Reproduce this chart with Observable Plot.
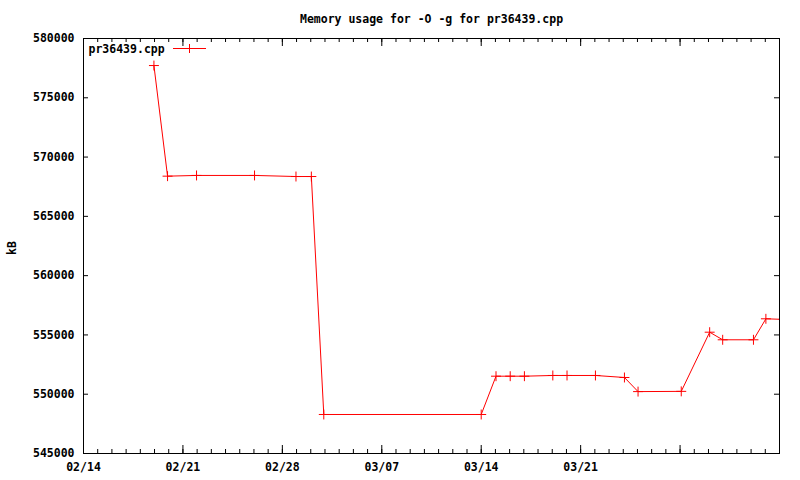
<!DOCTYPE html>
<html><head><meta charset="utf-8">
<script src="https://cdn.jsdelivr.net/npm/d3@7"></script>
<script src="https://cdn.jsdelivr.net/npm/@observablehq/plot@0.6"></script>
<style>body{margin:0;background:#fff}#chart{width:800px;height:480px}</style>
</head><body><div id="chart"></div>
<script>
const title = "Memory usage for -O -g for pr36439.cpp";
const seriesName = "pr36439.cpp";
const yLabel = "kB";
const dates = [
  "2009-02-18T23:00Z","2009-02-19T22:00Z","2009-02-21T23:00Z","2009-02-26T01:00Z",
  "2009-02-28T23:00Z","2009-03-02T01:00Z","2009-03-02T22:00Z","2009-03-14T00:00Z",
  "2009-03-15T01:00Z","2009-03-16T01:00Z","2009-03-17T01:00Z","2009-03-19T01:00Z",
  "2009-03-20T01:00Z","2009-03-22T01:00Z","2009-03-24T02:00Z","2009-03-25T01:00Z",
  "2009-03-28T02:00Z","2009-03-30T02:00Z","2009-03-31T00:00Z","2009-04-02T04:00Z",
  "2009-04-03T01:00Z","2009-04-04T07:00Z"
];
const values = [
  577720, 568390, 568450, 568450,
  568360, 568360, 548290, 548290,
  551520, 551520, 551520, 551580,
  551580, 551580, 551410, 550220,
  550240, 555230, 554590, 554590,
  556360, 556310
];
const yTicks = [545000, 550000, 555000, 560000, 565000, 570000, 575000, 580000];
const xMajorTicks = ["2009-02-14","2009-02-21","2009-02-28","2009-03-07","2009-03-14","2009-03-21","2009-03-28","2009-04-04"];
const xTickLabels = ["02/14","02/21","02/28","03/07","03/14","03/21","",""];
const xDomain = ["2009-02-14", "2009-04-04"];
const yDomain = [545000, 580000];

const data = dates.map((d, i) => ({date: new Date(d), value: values[i]}));
const majors = xMajorTicks.map(d => new Date(d + "T00:00Z"));
const labelMap = new Map(majors.map((d, i) => [+d, xTickLabels[i]]));
const x0 = new Date(xDomain[0] + "T00:00Z"), x1 = new Date(xDomain[1] + "T00:00Z");
const minors = d3.utcDay.range(x0, d3.utcDay.offset(x1, 1));

const W = 800, H = 480, mL = 83, mR = 21, mT = 38, mB = 27;
const fw = W - mL - mR, fh = H - mT - mB;

const chart = Plot.plot({
  width: W, height: H,
  marginLeft: mL, marginRight: mR, marginTop: mT, marginBottom: mB,
  style: {fontFamily: "'DejaVu Sans Mono', monospace", fontSize: "11.5px", fontWeight: "bold", background: "#fff", color: "#000"},
  x: {type: "utc", domain: [x0, x1], label: null},
  y: {domain: yDomain, label: null},
  marks: [
    Plot.tickX(minors, {x: d => d, insetTop: fh - 4, stroke: "black"}),
    Plot.tickX(minors, {x: d => d, insetBottom: fh - 4, stroke: "black"}),
    Plot.tickX(majors, {x: d => d, insetTop: fh - 8, stroke: "black"}),
    Plot.tickX(majors, {x: d => d, insetBottom: fh - 8, stroke: "black"}),
    Plot.tickY(yTicks, {y: d => d, insetRight: fw - 5, stroke: "black"}),
    Plot.tickY(yTicks, {y: d => d, insetLeft: fw - 5, stroke: "black"}),
    Plot.axisX(majors, {tickSize: 0, tickPadding: 9, tickFormat: d => labelMap.get(+d) ?? "", label: null}),
    Plot.axisY(yTicks, {tickSize: 0, tickPadding: 9, tickFormat: d => String(d), label: null}),
    Plot.line(data, {x: "date", y: "value", stroke: "#ff0000", strokeWidth: 1, clip: true}),
    Plot.dot(data, {x: "date", y: "value", symbol: "plus", r: 3.3, stroke: "#ff0000", strokeWidth: 1, clip: true}),
    Plot.frame({stroke: "black"}),
    Plot.text([title], {frameAnchor: "top", lineAnchor: "middle", dy: -19, text: d => d}),
    Plot.text([seriesName], {frameAnchor: "top-left", lineAnchor: "middle", dx: 5, dy: 11, textAnchor: "start", text: d => d}),
    Plot.text([yLabel], {frameAnchor: "left", dx: -71, dy: 9, rotate: -90, text: d => d})
  ]
});
document.getElementById("chart").appendChild(chart);

// legend sample line with marker
const svg = d3.select(chart);
const g = svg.append("g").attr("stroke", "#ff0000").attr("stroke-width", 1).attr("fill", "none");
g.append("line").attr("x1", 173).attr("x2", 206).attr("y1", 48.5).attr("y2", 48.5);
g.append("line").attr("x1", 189.5).attr("x2", 189.5).attr("y1", 44).attr("y2", 53);
</script>
</body></html>
